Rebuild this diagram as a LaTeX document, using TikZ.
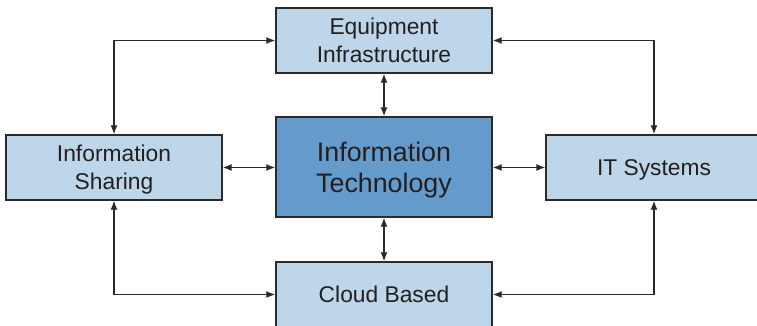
\documentclass[tikz,border=0pt]{standalone}
\usepackage{fontspec}
\setmainfont{Liberation Sans}
\usetikzlibrary{arrows.meta}
\definecolor{lightbox}{HTML}{BED6EA}
\definecolor{darkbox}{HTML}{659BCB}
\definecolor{edgecol}{HTML}{2B2A2B}
\definecolor{txtcol}{HTML}{231F20}
\tikzset{
  smallbox/.style={draw=edgecol, line width=1.4pt, fill=lightbox, minimum width=216pt, minimum height=65pt,
    inner sep=0pt, align=center, text=txtcol, text depth=0pt, font=\fontsize{22.8}{27.8}\selectfont},
  bigbox/.style={draw=edgecol, line width=1.4pt, fill=darkbox, minimum width=216pt, minimum height=100pt,
    inner sep=0pt, align=center, text=txtcol, text depth=0pt, font=\fontsize{26.8}{31}\selectfont},
  conn/.style={draw=edgecol, line width=1.3pt, {Latex[length=9pt,width=7pt]}-{Latex[length=9pt,width=7pt]}}
}
\begin{document}
\begin{tikzpicture}[x=1pt,y=-1pt]
\useasboundingbox (0,0) rectangle (757,326);
\clip (0,0) rectangle (757,326);
\node[smallbox] (eq) at (384,40.5) {Equipment\\Infrastructure};
\node[bigbox] (itc) at (384,167) {Information\\Technology};
\node[smallbox] (sh) at (114,167.5) {Information\\Sharing};
\node[smallbox] (its) at (654,167.5) {IT Systems};
\node[smallbox] (cl) at (384,294.5) {Cloud Based};
\draw[conn] (sh.north) |- (eq.west);
\draw[conn] (eq.east) -| (its.north);
\draw[conn] (sh.south) |- (cl.west);
\draw[conn] (cl.east) -| (its.south);
\draw[conn] (eq.south) -- (itc.north);
\draw[conn] (itc.south) -- (cl.north);
\draw[conn] (sh.east) -- (sh.east -| itc.west);
\draw[conn] (its.west) -- (its.west -| itc.east);
\end{tikzpicture}
\end{document}
